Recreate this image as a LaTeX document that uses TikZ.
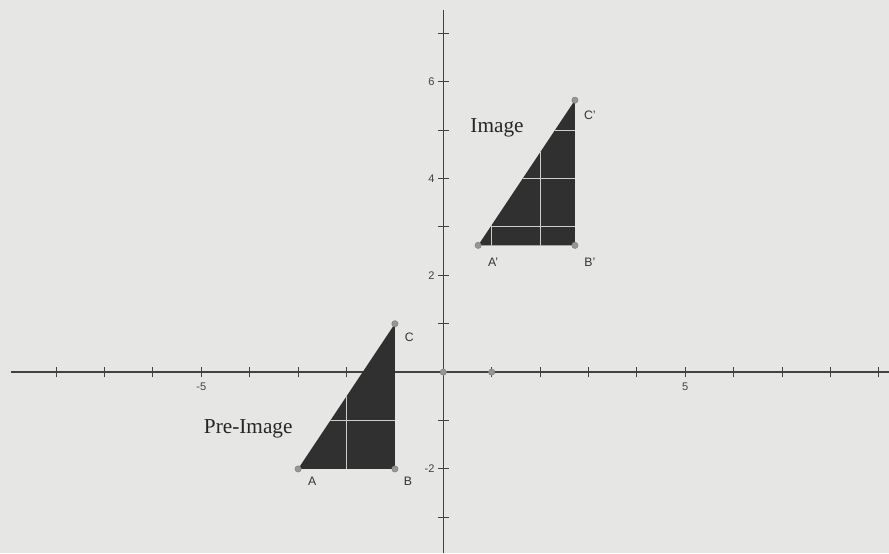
\documentclass[tikz,border=0pt]{standalone}
\usepackage{fontspec}
\setmainfont{Liberation Serif}
\setsansfont{Liberation Sans}
\usetikzlibrary{positioning}
\definecolor{paper}{RGB}{230,230,228}
\definecolor{axisgray}{RGB}{66,66,66}
\definecolor{shade}{RGB}{48,48,48}
\definecolor{dotgray}{RGB}{150,150,150}
\definecolor{gridwhite}{RGB}{205,205,205}

\begin{document}
\begin{tikzpicture}[
  axis/.style={draw=axisgray, line width=0.85pt},
  tick/.style={draw=axisgray, line width=0.6pt},
  ticklabel/.style={font=\sffamily\fontsize{6.5}{7}\selectfont, text=axisgray, inner sep=1pt},
  vlabel/.style={font=\sffamily\fontsize{7.2}{8}\selectfont, text=black!80, inner sep=1pt},
  title/.style={font=\fontsize{12.5}{14}\selectfont, text=black!85},
  tri/.style={fill=shade},
  gridline/.style={draw=gridwhite, line width=0.6pt},
  dot/.style={circle, fill=dotgray, draw=gray, line width=0.3pt, inner sep=0pt, minimum size=0.13cm}
]
\useasboundingbox[fill=paper] (-9.16,-3.74) rectangle (9.21,7.69);

% axes
\coordinate (xl) at (-8.93,0);
\coordinate (xr) at (9.21,0);
\coordinate (yt) at (0,7.48);
\coordinate (yb) at (0,-3.74);
\draw[axis] (xl) -- (xr);
\draw[axis] (yt) -- (yb);
\foreach \x in {-8,...,-1,1,2,...,9}
  \draw[tick] (\x,-0.11) -- (\x,0.11);
\foreach \y in {-3,-2,-1,1,2,...,7}
  \draw[tick] (-0.11,\y) -- (0.11,\y);
\node[ticklabel] (lm5) at (-5,-0.31) {-5};
\node[ticklabel] (lp5) at (5,-0.31) {5};
\node[ticklabel, anchor=east] (l6) at (-0.14,6) {6};
\node[ticklabel, anchor=east] (l4) at (-0.14,4) {4};
\node[ticklabel, anchor=east] (l2) at (-0.14,2) {2};
\node[ticklabel, anchor=east] (lm2) at (-0.14,-2) {-2};

% pre-image
\coordinate (A) at (-3,-2);
\coordinate (B) at (-1,-2);
\coordinate (C) at (-1,1);
\fill[tri] (A) -- (B) -- (C) -- cycle;
\begin{scope}
  \clip (A) -- (B) -- (C) -- cycle;
  \draw[gridline] (-2,-3) -- (-2,2);
  \draw[gridline] (-4,-1) -- (0,-1);
\end{scope}

% image
\coordinate (A') at (0.72,2.62);
\coordinate (B') at (2.72,2.62);
\coordinate (C') at (2.72,5.62);
\fill[tri] (A') -- (B') -- (C') -- cycle;
\begin{scope}
  \clip (A') -- (B') -- (C') -- cycle;
  \foreach \x in {1,2}
    \draw[gridline] (\x,2) -- (\x,6);
  \foreach \y in {3,4,5}
    \draw[gridline] (0,\y) -- (3,\y);
\end{scope}

% points
\node[dot] (O) at (0,0) {};
\node[dot] (U) at (1,0) {};
\foreach \p in {A,B,C,A',B',C'}
  \node[dot] at (\p) {};

% labels
\node[vlabel] (lA) at (-2.71,-2.25) {A};
\node[vlabel] (lB) at (-0.73,-2.25) {B};
\node[vlabel] (lC) at (-0.70,0.72) {C};
\node[vlabel] (lA') at (1.03,2.27) {A'};
\node[vlabel] (lB') at (3.03,2.27) {B'};
\node[vlabel] (lC') at (3.03,5.31) {C'};
\node[title] (pre) at (-4.03,-1.18) {Pre-Image};
\node[title] (img) at (1.11,5.04) {Image};
\end{tikzpicture}
\end{document}
